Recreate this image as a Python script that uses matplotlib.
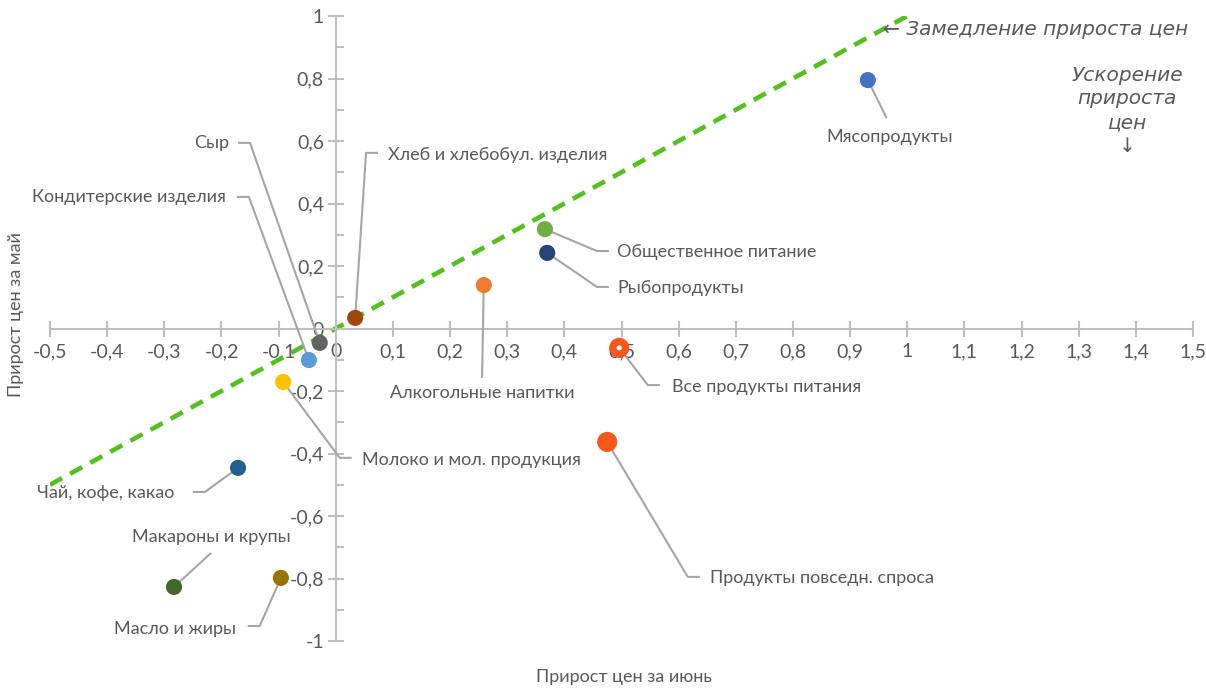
import matplotlib
matplotlib.use("Agg")
import matplotlib.pyplot as plt
from matplotlib.ticker import FixedLocator, FuncFormatter, MultipleLocator

plt.rcParams['font.family'] = ['Lato', 'DejaVu Sans']

categories = [
    "Мясопродукты", "Общественное питание", "Рыбопродукты", "Алкогольные напитки",
    "Все продукты питания", "Продукты повседн. спроса", "Хлеб и хлебобул. изделия",
    "Сыр", "Кондитерские изделия", "Молоко и мол. продукция", "Чай, кофе, какао",
    "Макароны и крупы", "Масло и жиры",
]
june = [0.931, 0.366, 0.370, 0.259, 0.496, 0.475, 0.034, -0.028, -0.047, -0.092, -0.171, -0.283, -0.096]
may = [0.795, 0.318, 0.242, 0.139, -0.062, -0.363, 0.034, -0.046, -0.101, -0.171, -0.446, -0.827, -0.798]
colors = ["#4472C4", "#70AD47", "#264478", "#ED7D31", "#F4581C", "#F4581C", "#9E480E",
          "#636363", "#5B9BD5", "#FFC000", "#255E91", "#43682B", "#997300"]
big = {"Все продукты питания", "Продукты повседн. спроса"}

# label text anchor, alignment and leader path (elbow, end) in data units
labels = {
    "Мясопродукты": ((0.970, 0.612), "center", [(0.964, 0.673)]),
    "Общественное питание": ((0.492, 0.245), "left", [(0.457, 0.248), (0.478, 0.248)]),
    "Рыбопродукты": ((0.492, 0.130), "left", [(0.457, 0.133), (0.478, 0.133)]),
    "Алкогольные напитки": ((0.256, -0.206), "center", [(0.256, -0.158)]),
    "Все продукты питания": ((0.588, -0.187), "left", [(0.546, -0.181), (0.567, -0.181)]),
    "Продукты повседн. спроса": ((0.655, -0.798), "left", [(0.616, -0.795), (0.637, -0.795)]),
    "Хлеб и хлебобул. изделия": ((0.091, 0.555), "left", [(0.053, 0.562), (0.074, 0.562)]),
    "Сыр": ((-0.187, 0.594), "right", [(-0.150, 0.594), (-0.171, 0.594)]),
    "Кондитерские изделия": ((-0.193, 0.421), "right", [(-0.152, 0.421), (-0.173, 0.421)]),
    "Молоко и мол. продукция": ((0.046, -0.421), "left", [(0.007, -0.414), (0.028, -0.414)]),
    "Чай, кофе, какао": ((-0.283, -0.526), "right", [(-0.229, -0.523), (-0.250, -0.523)]),
    "Макароны и крупы": ((-0.218, -0.667), "center", [(-0.218, -0.718)]),
    "Масло и жиры": ((-0.175, -0.962), "right", [(-0.133, -0.952), (-0.154, -0.952)]),
}

parity = [-0.5, 1.0]

text_color = "#595959"
axis_color = "#BFBFBF"
italic_font = ["DejaVu Sans"]

fig = plt.figure(figsize=(12.06, 6.88), dpi=100)
W, H = 1206, 688
ax = fig.add_axes([50 / W, 1 - 641 / H, (1193 - 50) / W, (641 - 16) / H])
ax.set_xlim(-0.5, 1.5)
ax.set_ylim(-1, 1)

for s in ["top", "right"]:
    ax.spines[s].set_visible(False)
ax.spines["left"].set_position(("data", 0))
ax.spines["bottom"].set_position(("data", 0))
for s in ["left", "bottom"]:
    ax.spines[s].set_color(axis_color)
    ax.spines[s].set_linewidth(1.5)

xt = [round(-0.5 + 0.1 * i, 1) for i in range(21)]
yt = [round(-1 + 0.2 * i, 1) for i in range(11)]
ax.xaxis.set_major_locator(FixedLocator(xt))
ax.yaxis.set_major_locator(FixedLocator(yt))
ax.yaxis.set_minor_locator(MultipleLocator(0.1))


def fmt(v, _):
    s = f"{v:.1f}".rstrip("0").rstrip(".")
    if s in ("-0", ""):
        s = "0"
    return s.replace(".", ",")


ax.xaxis.set_major_formatter(FuncFormatter(fmt))
ax.yaxis.set_major_formatter(FuncFormatter(fmt))
ax.tick_params(axis="both", which="major", direction="inout", length=11, width=1.5,
               color=axis_color, labelcolor=text_color, labelsize=14)
ax.tick_params(axis="x", pad=5)
ax.tick_params(axis="y", pad=3)
ax.tick_params(axis="y", which="minor", direction="in", length=6, width=1.5, color=axis_color)

# parity line
ax.plot(parity, parity, color="#52C11E", lw=3.3, ls=(0, (3, 2)), zorder=2)

# leader lines and labels
for name, x, y, c in zip(categories, june, may, colors):
    (tx, ty), ha, path = labels[name]
    xs = [x] + [p[0] for p in path]
    ys = [y] + [p[1] for p in path]
    ax.plot(xs, ys, color="#A6A6A6", lw=1.5, zorder=3, solid_capstyle="butt")
    ax.text(tx, ty, name, ha=ha, va="center", fontsize=13, color=text_color, zorder=5)

for name, x, y, c in zip(categories, june, may, colors):
    s = 210 if name in big else 135
    ax.scatter([x], [y], s=s, color=c, edgecolors="none", zorder=4)
    if name == "Все продукты питания":
        ax.scatter([x], [y], s=14, color="white", edgecolors="none", zorder=4.5)

ax.text(0.958, 0.958, "← Замедление прироста цен", ha="left", va="center",
        fontsize=14.5, style="italic", color=text_color, family=italic_font)
ax.text(1.385, 0.84, "Ускорение\nприроста\nцен\n↓", ha="center", va="top",
        fontsize=14.5, style="italic", color=text_color, linespacing=1.3,
        family=italic_font)

fig.text(624 / W, 1 - 677 / H, "Прирост цен за июнь", ha="center", va="center",
         fontsize=13, color=text_color)
fig.text(16 / W, 1 - 315 / H, "Прирост цен за май", ha="center", va="center",
         rotation=90, fontsize=13, color=text_color)

fig.savefig("out.png", dpi=100, facecolor="white")
